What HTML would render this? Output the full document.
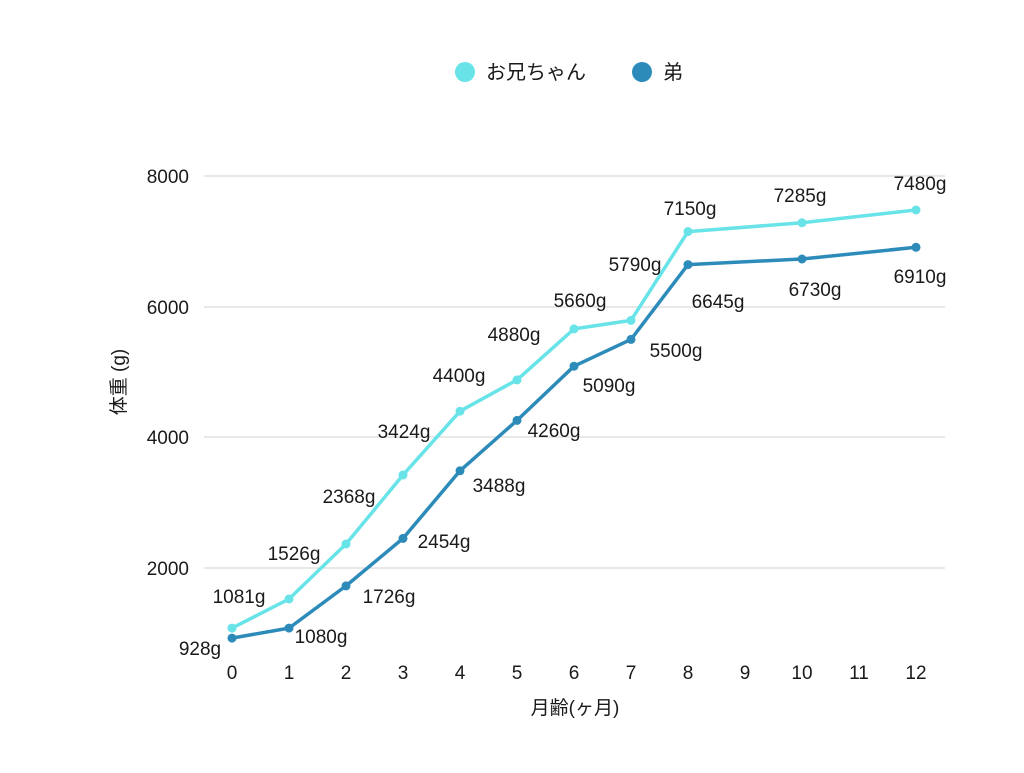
<!DOCTYPE html>
<html><head><meta charset="utf-8"><style>
html,body{margin:0;padding:0;background:#fff}
svg text{font-family:"Liberation Sans","Noto Sans CJK JP",sans-serif;fill:#1a1a1a}
</style></head><body>
<svg width="1024" height="768" viewBox="0 0 1024 768" xmlns="http://www.w3.org/2000/svg">
<g stroke="#d0d0d0" stroke-width="1">
<line x1="204" y1="176" x2="945" y2="176"/>
<line x1="204" y1="307" x2="945" y2="307"/>
<line x1="204" y1="437" x2="945" y2="437"/>
<line x1="204" y1="568" x2="945" y2="568"/>
</g>
<g font-size="19" text-anchor="end">
<text x="189" y="183">8000</text>
<text x="189" y="314">6000</text>
<text x="189" y="444">4000</text>
<text x="189" y="575">2000</text>
</g>
<g font-size="19" text-anchor="middle">
<text x="232" y="679">0</text><text x="289" y="679">1</text><text x="346" y="679">2</text><text x="403" y="679">3</text><text x="460" y="679">4</text><text x="517" y="679">5</text><text x="574" y="679">6</text><text x="631" y="679">7</text><text x="688" y="679">8</text><text x="745" y="679">9</text><text x="802" y="679">10</text><text x="859" y="679">11</text><text x="916" y="679">12</text>
<text x="575" y="714">月齢(ヶ月)</text>
</g>
<text font-size="19" text-anchor="middle" transform="translate(125,382) rotate(-90)">体重 (g)</text>
<circle cx="465" cy="72" r="10" fill="#68e3e8"/>
<text x="486" y="79" font-size="20">お兄ちゃん</text>
<circle cx="642" cy="72" r="10" fill="#2d8bba"/>
<text x="663" y="79" font-size="20">弟</text>
<polyline fill="none" stroke="#68e3e8" stroke-width="3.5" stroke-linejoin="round" points="232,628.1 289,599 346,544 403,475 460,411.2 517,379.9 574,328.9 631,320.4 688,231.6 802,222.8 916,210"/>
<g fill="#68e3e8">
<circle cx="232" cy="628.1" r="4.5"/><circle cx="289" cy="599" r="4.5"/><circle cx="346" cy="544" r="4.5"/><circle cx="403" cy="475" r="4.5"/><circle cx="460" cy="411.2" r="4.5"/><circle cx="517" cy="379.9" r="4.5"/><circle cx="574" cy="328.9" r="4.5"/><circle cx="631" cy="320.4" r="4.5"/><circle cx="688" cy="231.6" r="4.5"/><circle cx="802" cy="222.8" r="4.5"/><circle cx="916" cy="210" r="4.5"/>
</g>
<polyline fill="none" stroke="#2d8bba" stroke-width="3.5" stroke-linejoin="round" points="232,638.1 289,628.1 346,585.9 403,538.4 460,470.8 517,420.4 574,366.2 631,339.4 688,264.6 802,259 916,247.3"/>
<g fill="#2d8bba">
<circle cx="232" cy="638.1" r="4.5"/><circle cx="289" cy="628.1" r="4.5"/><circle cx="346" cy="585.9" r="4.5"/><circle cx="403" cy="538.4" r="4.5"/><circle cx="460" cy="470.8" r="4.5"/><circle cx="517" cy="420.4" r="4.5"/><circle cx="574" cy="366.2" r="4.5"/><circle cx="631" cy="339.4" r="4.5"/><circle cx="688" cy="264.6" r="4.5"/><circle cx="802" cy="259" r="4.5"/><circle cx="916" cy="247.3" r="4.5"/>
</g>
<g font-size="19" text-anchor="middle">
<text x="239" y="603">1081g</text>
<text x="294" y="560">1526g</text>
<text x="349" y="503">2368g</text>
<text x="404" y="438">3424g</text>
<text x="459" y="382">4400g</text>
<text x="514" y="341">4880g</text>
<text x="580" y="307">5660g</text>
<text x="635" y="271">5790g</text>
<text x="690" y="215">7150g</text>
<text x="800" y="202">7285g</text>
<text x="920" y="190">7480g</text>
<text x="200" y="655">928g</text>
<text x="321" y="643">1080g</text>
<text x="389" y="603">1726g</text>
<text x="444" y="548">2454g</text>
<text x="499" y="492">3488g</text>
<text x="554" y="437">4260g</text>
<text x="609" y="392">5090g</text>
<text x="676" y="357">5500g</text>
<text x="718" y="308">6645g</text>
<text x="815" y="296">6730g</text>
<text x="920" y="283">6910g</text>
</g>
</svg>
</body></html>
